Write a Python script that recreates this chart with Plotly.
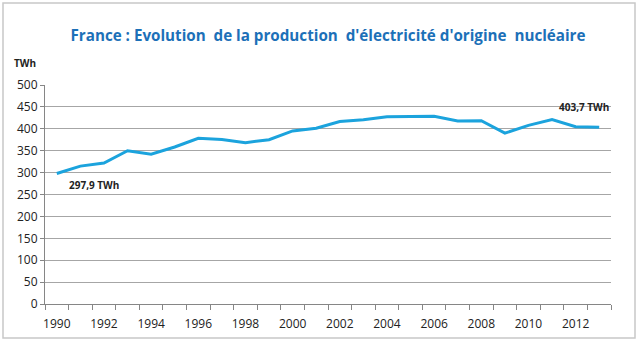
import plotly.graph_objects as go

years = list(range(1990, 2014))
production_twh = [297.9, 314.8, 321.7, 349.8, 341.8, 358.4, 378.2, 375.7, 368.4, 375.1,
                  395.2, 401.3, 416.5, 420.7, 427.7, 429.0, 428.7, 418.0, 418.3, 390.0,
                  407.9, 421.1, 404.9, 403.7]
x_tick_labels = [str(y) for y in range(1990, 2013, 2)]
y_ticks = list(range(0, 501, 50))

title_text = "France : Evolution\u00a0 de la production\u00a0 d'électricité d'origine\u00a0 nucléaire"

W, H = 640, 341
L, R, T, B = 45, 29, 85, 37
pw, ph = W - L - R, H - T - B

def px2paper_x(px):
    return (px - L) / pw

def px2paper_y(py):
    return (H - B - py) / ph

fig = go.Figure()
fig.add_trace(go.Scatter(
    x=years, y=production_twh, mode="lines",
    line=dict(color="#1BA3DD", width=3),
    hoverinfo="skip", showlegend=False,
))

font_family = "Open Sans, sans-serif"

fig.update_layout(
    width=W, height=H,
    margin=dict(l=L, r=R, t=T, b=B, autoexpand=False),
    paper_bgcolor="white", plot_bgcolor="white",
    title=dict(text="<b>" + title_text + "</b>", x=0.5, xref="paper", xanchor="center",
               y=1 - 36 / H, yanchor="middle",
               font=dict(family=font_family, size=15.2, color="#1C70B8")),
    xaxis=dict(
        range=[years[0] - 0.5, years[-1] + 0.5],
        tickvals=[int(v) for v in x_tick_labels], ticktext=x_tick_labels,
        ticks="", showgrid=False, zeroline=False,
        showline=True, linecolor="#868686", linewidth=1,
        ticklabelstandoff=9, automargin=False,
        tickfont=dict(family=font_family, size=12, color="#222"),
        minor=dict(tickvals=[y - 0.5 for y in years] + [years[-1] + 0.5],
                   ticks="outside", ticklen=5, tickcolor="#868686", showgrid=False),
        fixedrange=True,
    ),
    yaxis=dict(
        range=[0, 500], tickvals=y_ticks, automargin=False,
        showgrid=True, gridcolor="#A6A6A6", gridwidth=1,
        zeroline=False, showline=True, linecolor="#868686", linewidth=1,
        ticks="outside", ticklen=4, tickcolor="#868686",
        tickfont=dict(family=font_family, size=12, color="#222"),
        fixedrange=True,
    ),
    shapes=[dict(type="rect", xref="paper", yref="paper",
                 x0=px2paper_x(3), x1=px2paper_x(635),
                 y0=px2paper_y(338), y1=px2paper_y(3),
                 line=dict(color="#C8C8C8", width=1.5), fillcolor="rgba(0,0,0,0)")],
    annotations=[
        dict(text="<b>TWh</b>", xref="paper", yref="paper",
             x=px2paper_x(12), y=px2paper_y(63), xanchor="left", yanchor="middle",
             showarrow=False, font=dict(family=font_family, size=10, color="#222")),
        dict(text="<b>297,9 TWh</b>", x=years[0], y=production_twh[0],
             xanchor="left", yanchor="middle", xshift=10, yshift=-11, showarrow=False,
             font=dict(family=font_family, size=10, color="#222")),
        dict(text="<b>403,7 TWh</b>", x=years[-1], y=production_twh[-1],
             xanchor="right", yanchor="middle", xshift=12, yshift=20, showarrow=False,
             font=dict(family=font_family, size=10, color="#222")),
    ],
)

fig.write_html("out.html")
